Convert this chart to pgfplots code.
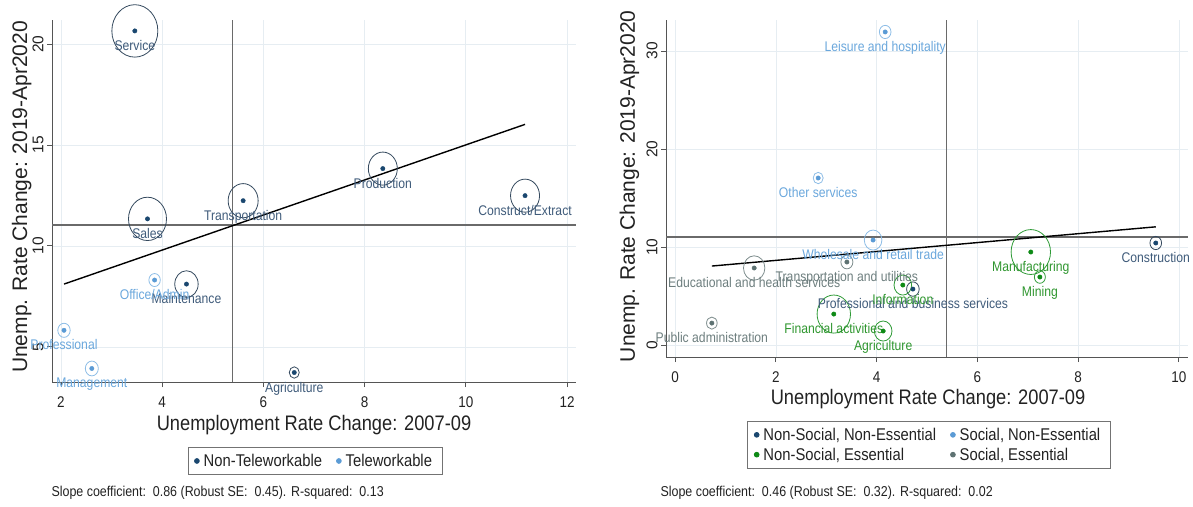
\documentclass[border=0pt]{standalone}
\usepackage{fontspec}
\setmainfont{Liberation Sans}[FakeStretch=0.87]
\newfontfamily\rotfont{Liberation Sans}
\usepackage{pgfplots}
\usepackage{pgfplotstable}
\pgfplotsset{compat=1.18}

% group colours: dot fill, circle outline, label text
\definecolor{navyS}{HTML}{1A476F}
\definecolor{navyC}{HTML}{34495E}
\definecolor{navyL}{HTML}{3F5B7A}
\definecolor{ltblS}{HTML}{5B9BD5}
\definecolor{ltblC}{HTML}{8DBDE6}
\definecolor{ltblL}{HTML}{6AA7DC}
\definecolor{grnS}{HTML}{0E8A16}
\definecolor{grnC}{HTML}{2E9A36}
\definecolor{grnL}{HTML}{2F962F}
\definecolor{grayS}{HTML}{5E7272}
\definecolor{grayC}{HTML}{7D8C8C}
\definecolor{grayL}{HTML}{6D7E7E}
\definecolor{gridc}{HTML}{E6EDF2}
\definecolor{axisc}{HTML}{555555}
\definecolor{refc}{HTML}{6A6A6A}
\definecolor{txtc}{HTML}{222222}

\newcommand{\lblfont}{\fontsize{14}{16}\selectfont}
\newcommand{\tickfont}{\fontsize{15.5}{17}\selectfont}
\newcommand{\titlefont}{\fontsize{21}{24}\selectfont}
\newcommand{\legfont}{\fontsize{17}{19}\selectfont}
\newcommand{\notefont}{\fontsize{14.3}{16}\selectfont}

% occupations: x = change 2007-09, y = change 2019-Apr2020, r = weight circle radius (pt)
\pgfplotstableread[col sep=comma]{
x,y,lab,r
3.46,20.65,Service,23
3.71,11.34,Sales,19
5.60,12.24,Transportation,15
8.36,13.83,Production,14.5
11.17,12.49,Construct/Extract,14.5
4.48,8.11,Maintenance,11.7
6.61,3.73,Agriculture,5
}\occNT
\pgfplotstableread[col sep=comma]{
x,y,lab,r
3.85,8.31,Office/Admin,5.7
2.06,5.82,Professional,6.2
2.61,3.93,Management,6.5
}\occT

% industries
\pgfplotstableread[col sep=comma]{
x,y,lab,r
9.54,10.41,Construction,5.8
4.72,5.71,Professional and business services,6.3
}\indNSNE
\pgfplotstableread[col sep=comma]{
x,y,lab,r
4.17,31.94,Leisure and hospitality,5.8
2.84,17.04,Other services,5
3.93,10.71,Wholesale and retail trade,8.8
}\indSNE
\pgfplotstableread[col sep=comma]{
x,y,lab,r
7.06,9.49,Manufacturing,19.7
7.24,6.94,Mining,5.5
4.52,6.12,Information,8.8
3.15,3.16,Financial activities,16.7
4.13,1.43,Agriculture,8.8
}\indNSE
\pgfplotstableread[col sep=comma]{
x,y,lab,r
1.57,7.86,Educational and health services,10.7
3.41,8.47,Transportation and utilities,6
0.73,2.24,Public administration,5.3
}\indSE

\pgfplotsset{
  panel/.style={
    scale only axis, clip=false,
    axis x line*=bottom, axis y line*=left,
    axis line style={draw=axisc, line width=1pt, -},
    tick align=outside, major tick length=5pt,
    tick style={draw=axisc, line width=0.9pt},
    xmajorgrids, ymajorgrids,
    major grid style={draw=gridc, line width=0.7pt},
    /pgf/number format/assume math mode=true,
    xticklabel style={font=\tickfont, text=txtc, yshift=-6pt},
    yticklabel style={font=\rotfont\tickfont, text=txtc, rotate=90, anchor=south},
    xlabel style={font=\titlefont, text=txtc, anchor=center},
    ylabel style={font=\rotfont\titlefont, text=txtc, anchor=center},
    legend columns=2, legend cell align=left,
    legend style={anchor=north, draw=black!55, line width=0.8pt, font=\legfont,
      text=txtc, inner xsep=6pt, inner ysep=5pt, row sep=3pt,
      nodes={inner xsep=4pt, inner ysep=1.5pt},
      /tikz/every even column/.append style={column sep=10pt}},
  },
  % weighted hollow circle around each point
  wcirc/.style={scatter, only marks, mark=o, forget plot, line width=0.8pt,
    scatter/use mapped color={draw=#1},
    mark options={yscale=1.14},
    visualization depends on={\thisrow{r} \as \rad},
    scatter/@pre marker code/.append style={/tikz/mark size=\rad}},
  % centre dot with its label underneath
  wdot/.style 2 args={only marks, mark=*, mark size=2.2pt, color=#1,
    nodes near coords, point meta=explicit symbolic,
    nodes near coords align={anchor=base},
    every node near coord/.append style={yshift=-19.5pt, font=\lblfont, text=#2, inner sep=0pt},
    legend image code/.code={\fill[#1] (0.12cm,0cm) circle (2.4pt);}},
}

\begin{document}
\begin{tikzpicture}
\useasboundingbox (0pt,0pt) rectangle (1193pt,-506pt);

% ---------- occupations ----------
\begin{axis}[panel,
  at={(52pt,-382pt)}, anchor=south west, width=524pt, height=362pt,
  xmin=1.823, xmax=12.177, ymin=3.26, ymax=21.19,
  xtick={2,4,...,12}, ytick={5,10,15,20},
  xlabel={Unemployment Rate Change: 2007-09},
  ylabel={Unemp. Rate Change: 2019-Apr2020},
  xlabel style={at={(axis description cs:0.5,-0.12)}},
  ylabel style={at={(axis description cs:-0.058,0.511)}},
  legend style={at={(0.502,-0.18)}},
]
\addplot[refc, line width=1.2pt, forget plot] coordinates {(1.823,11.04) (12.177,11.04)};
\addplot[refc, line width=1.2pt, forget plot] coordinates {(5.39,3.26) (5.39,21.19)};
\addplot[black, line width=1.4pt, forget plot] coordinates {(2.06,8.11) (11.17,16.02)};
\addplot[wcirc=navyC] table[x=x, y=y] {\occNT};
\addplot[wcirc=ltblC] table[x=x, y=y] {\occT};
\addplot[wdot={navyS}{navyL}] table[x=x, y=y, meta=lab] {\occNT};
\addlegendentry{Non-Teleworkable}
\addplot[wdot={ltblS}{ltblL}] table[x=x, y=y, meta=lab] {\occT};
\addlegendentry{Teleworkable}
\end{axis}

% ---------- industries ----------
\begin{axis}[panel,
  at={(666pt,-357pt)}, anchor=south west, width=522pt, height=337pt,
  xmin=-0.18, xmax=10.18, ymin=-1.22, ymax=33.16,
  xtick={0,2,...,10}, ytick={0,10,20,30},
  xlabel={Unemployment Rate Change: 2007-09},
  ylabel={Unemp. Rate Change: 2019-Apr2020},
  xlabel style={at={(axis description cs:0.502,-0.125)}},
  ylabel style={at={(axis description cs:-0.07,0.507)}},
  legend style={at={(0.504,-0.19)}},
]
\addplot[refc, line width=1.2pt, forget plot] coordinates {(-0.18,11.02) (10.18,11.02)};
\addplot[refc, line width=1.2pt, forget plot] coordinates {(5.38,-1.22) (5.38,33.16)};
\addplot[black, line width=1.4pt, forget plot] coordinates {(0.73,8.06) (9.54,12.06)};
\addplot[wcirc=navyC] table[x=x, y=y] {\indNSNE};
\addplot[wcirc=ltblC] table[x=x, y=y] {\indSNE};
\addplot[wcirc=grnC] table[x=x, y=y] {\indNSE};
\addplot[wcirc=grayC] table[x=x, y=y] {\indSE};
\addplot[wdot={navyS}{navyL}] table[x=x, y=y, meta=lab] {\indNSNE};
\addlegendentry{Non-Social, Non-Essential}
\addplot[wdot={ltblS}{ltblL}] table[x=x, y=y, meta=lab] {\indSNE};
\addlegendentry{Social, Non-Essential}
\addplot[wdot={grnS}{grnL}] table[x=x, y=y, meta=lab] {\indNSE};
\addlegendentry{Non-Social, Essential}
\addplot[wdot={grayS}{grayL}] table[x=x, y=y, meta=lab] {\indSE};
\addlegendentry{Social, Essential}
\end{axis}

\node[anchor=base west, font=\notefont, text=txtc] at (48pt,-496pt)
  {Slope coefficient:\ \ 0.86 (Robust SE:\ \ 0.45). R-squared:\ \ 0.13};
\node[anchor=base west, font=\notefont, text=txtc] at (657pt,-496pt)
  {Slope coefficient:\ \ 0.46 (Robust SE:\ \ 0.32). R-squared:\ \ 0.02};
\end{tikzpicture}
\end{document}
